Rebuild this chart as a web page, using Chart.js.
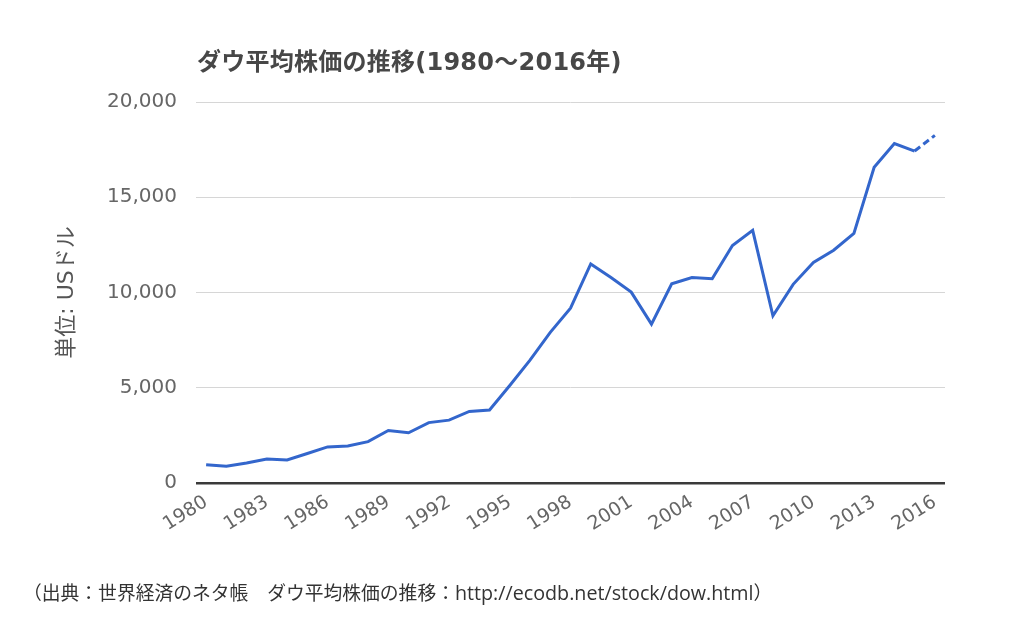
<!DOCTYPE html>
<html>
<head>
<meta charset="utf-8">
<script src="https://cdn.jsdelivr.net/npm/chart.js@4"></script>
<style>
  html, body { margin: 0; padding: 0; background: #fff; }
  #wrap { position: relative; width: 1024px; height: 628px; overflow: hidden; }
  #chart { position: absolute; left: 0; top: 0; }
  #title { position: absolute; left: 197px; top: 42px; font: bold 24px "DejaVu Sans", "Noto Sans CJK JP", sans-serif; letter-spacing: 0.25px; color: #474747; white-space: nowrap; }
  #source { position: absolute; left: 23px; top: 578px; font: 18.8px "Noto Sans CJK JP", sans-serif; color: #333; white-space: nowrap; }
  #source .url { font: 19.7px "Open Sans", sans-serif; }
</style>
</head>
<body>
<div id="wrap">
  <canvas id="chart" width="1024" height="628"></canvas>
  <div id="title">ダウ平均株価の推移(1980～2016年)</div>
  <div id="source">（出典：世界経済のネタ帳　ダウ平均株価の推移：<span class="url">http://ecodb.net/stock/dow.html</span>）</div>
</div>
<script>
const years = [1980,1981,1982,1983,1984,1985,1986,1987,1988,1989,1990,1991,1992,1993,1994,1995,1996,1997,1998,1999,2000,2001,2002,2003,2004,2005,2006,2007,2008,2009,2010,2011,2012,2013,2014,2015,2016];
const dowValues = [964,875,1047,1259,1212,1547,1896,1939,2169,2753,2634,3169,3301,3754,3834,5117,6448,7908,9181,11497,10787,10022,8342,10454,10783,10718,12463,13265,8776,10428,11578,12218,13104,16577,17823,17425,18250];
const yTicks = [0,5000,10000,15000,20000];
const yAxisTitle = '単位: USドル';

const lastIndex = dowValues.length - 1;

new Chart(document.getElementById('chart'), {
  type: 'line',
  data: {
    labels: years.map(String),
    datasets: [{
      data: dowValues,
      borderColor: '#3366cc',
      borderWidth: 3,
      pointRadius: 0,
      pointHoverRadius: 0,
      tension: 0,
      fill: false,
      segment: {
        borderDash: ctx => ctx.p1DataIndex === lastIndex ? [7, 4] : undefined
      }
    }]
  },
  options: {
    responsive: false,
    animation: false,
    devicePixelRatio: 1,
    layout: { padding: { left: 50, right: 79, top: 102, bottom: 75 } },
    plugins: { legend: { display: false }, tooltip: { enabled: false }, title: { display: false } },
    scales: {
      x: {
        type: 'category',
        offset: true,
        grid: { display: false, drawTicks: false },
        border: { display: false },
        ticks: {
          autoSkip: false,
          maxRotation: 32,
          minRotation: 32,
          padding: 8,
          color: '#666',
          font: { family: '"DejaVu Sans", sans-serif', size: 19 },
          callback: function(value, index) {
            const y = years[index];
            return (y - years[0]) % 3 === 0 ? String(y) : '';
          }
        },
        afterFit: s => { s.height = 70; }
      },
      y: {
        min: yTicks[0],
        max: yTicks[yTicks.length - 1],
        afterBuildTicks: s => { s.ticks = yTicks.map(v => ({ value: v })); },
        grid: {
          drawTicks: false,
          color: c => c.tick && c.tick.value === 0 ? '#3a3a3a' : '#d6d6d6',
          lineWidth: c => c.tick && c.tick.value === 0 ? 2.5 : 1
        },
        border: { display: false },
        ticks: {
          padding: 19,
          color: '#666',
          font: { family: '"DejaVu Sans", sans-serif', size: 20 },
          callback: v => Number(v).toLocaleString('en-US')
        },
        title: {
          display: true,
          text: yAxisTitle,
          color: '#555',
          font: { family: '"DejaVu Sans", "Noto Sans CJK JP", sans-serif', size: 22 },
          padding: { top: 4, bottom: 2 }
        },
        afterFit: s => { s.width = 146; }
      }
    }
  }
});
</script>
</body>
</html>
